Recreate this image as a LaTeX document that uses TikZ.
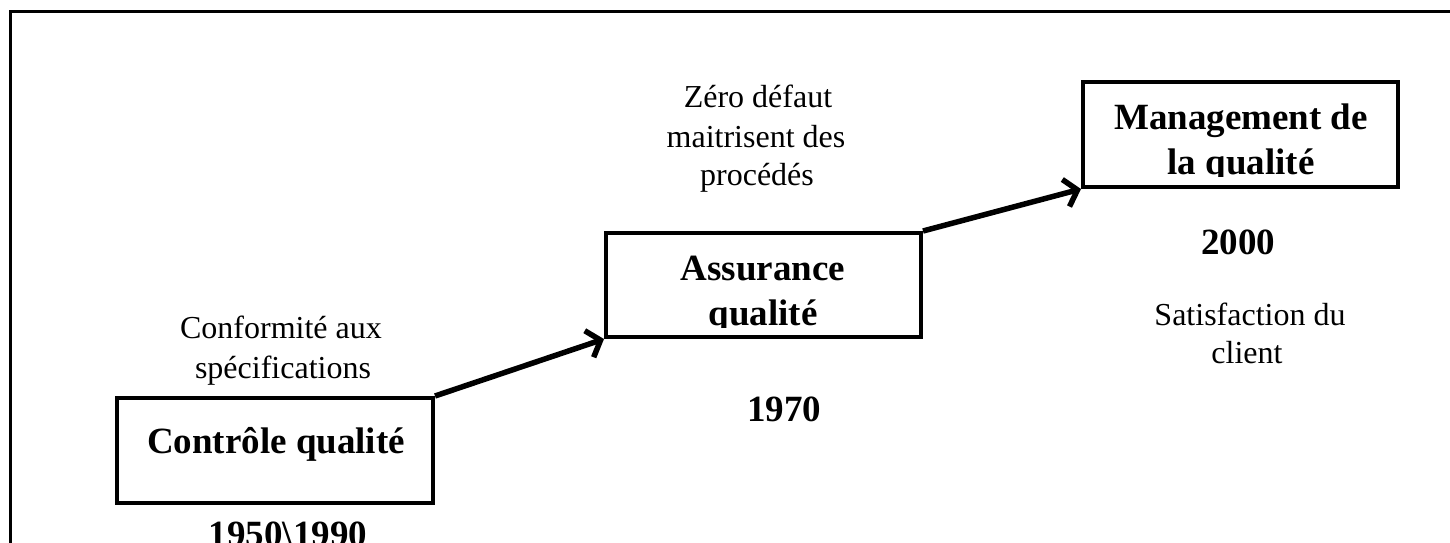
\documentclass[tikz,border=0pt]{standalone}
\usepackage{fontspec}
\setmainfont{Liberation Serif}
\usetikzlibrary{arrows.meta}
\tikzset{
  frameline/.style={line width=3pt, black},
  box/.style={draw, line width=4pt, inner sep=0pt},
  arr/.style={line width=5.5pt, -{Straight Barb[length=12pt,width=28pt]}},
  reg/.style={anchor=base, inner sep=0pt, font=\fontsize{32}{38.4}\selectfont},
  bld/.style={anchor=base, inner sep=0pt, font=\fontsize{37}{44.4}\selectfont\bfseries}
}
\begin{document}
\begin{tikzpicture}[x=1pt,y=-1pt]
\useasboundingbox (0,0) rectangle (1450,543);
% outer frame (cut at right and bottom)
\coordinate (fbl) at (10,560);
\coordinate (ftl) at (10,12);
\coordinate (ftr) at (1460,12);
\draw[frameline] (fbl) -- (ftl) -- (ftr);

% boxes
\node[box, minimum width=316pt, minimum height=105pt] (ctrl) at (275,450.5) {};
\node[box, minimum width=315pt, minimum height=104pt] (assur) at (763.5,285) {};
\node[box, minimum width=315pt, minimum height=105pt] (mgmt) at (1240.5,134.5) {};

% box texts
\node[bld] (ctrlT) at (276,453) {Contrôle qualité};
\begin{scope}
  \clip (606,233) rectangle (921,327);
  \node[bld] (assurT1) at (763,280) {Assurance};
  \node[bld] (assurT2) at (763,325) {qualité};
\end{scope}
\begin{scope}
  \clip (1083,82) rectangle (1398,176);
  \node[bld] (mgmtT1) at (1241,129) {Management de};
  \node[bld] (mgmtT2) at (1241,174) {la qualité};
\end{scope}

% arrows
\draw[arr] (ctrl.north east) -- (assur.south west);
\draw[arr] (assur.north east) -- (mgmt.south west);

% descriptions
\node[reg] (c1) at (281,338) {Conformité aux};
\node[reg] (c2) at (283,378) {spécifications};
\node[reg] (z1) at (758,107) {Zéro défaut};
\node[reg] (z2) at (756,147) {maitrisent des};
\node[reg] (z3) at (757,185) {procédés};
\node[reg] (s1) at (1250,325) {Satisfaction du};
\node[reg] (s2) at (1247,363) {client};

% years
\node[bld] (y2000) at (1238,254) {2000};
\node[bld] (y1970) at (784,421) {1970};
\begin{scope}
  \clip (0,0) rectangle (1450,543);
  \node[bld] (y1950) at (288,546) {1950\textbackslash 1990};
\end{scope}
\end{tikzpicture}
\end{document}
